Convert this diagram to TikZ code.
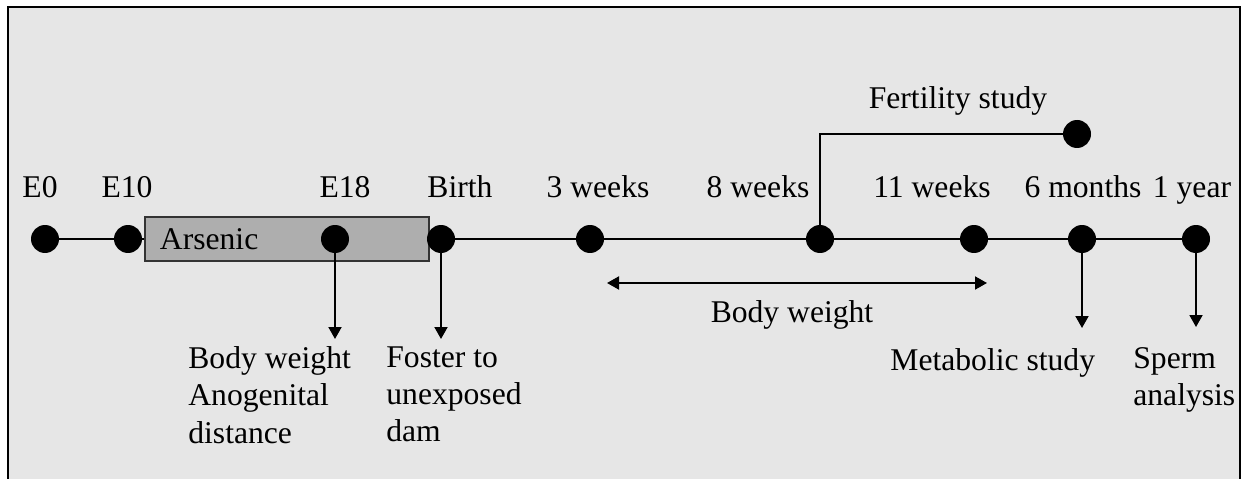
\documentclass[tikz,border=0pt]{standalone}
\usepackage{fontspec}
\setmainfont{Liberation Serif}
\usepackage{tikz}
\usetikzlibrary{arrows.meta,backgrounds}
\usepackage{xcolor}
\definecolor{panelgray}{HTML}{E6E6E6}
\definecolor{arsenicgray}{HTML}{AEAEAE}

\begin{document}
\begin{tikzpicture}[
    x=0.02cm, y=-0.02cm,
    >={Triangle[length=2.4mm, width=2.6mm]},
    tpoint/.style={circle, fill=black, inner sep=0pt, minimum size=0.56cm},
    stagelbl/.style={font=\fontsize{18}{21.3}\selectfont, inner sep=0pt, anchor=base},
    outcome/.style={font=\fontsize{18}{21.3}\selectfont, inner sep=4pt, align=left, anchor=north west},
    arrow/.style={->, line width=1.1pt},
    every node/.style={font=\fontsize{18}{21.3}\selectfont}
]
\useasboundingbox (0,0) rectangle (1251,479);

% ---- Exposure window ----
\node[draw=black!80, line width=1.1pt, fill=arsenicgray, anchor=west, text width=5.08cm, inner xsep=0.3cm,
      minimum height=0.88cm, align=left] (arsenic) at (144,239) {Arsenic};

% ---- Time points ----
\node[tpoint] (e0) at (45,239) {};
\node[tpoint] (e10) at (128,239) {};
\node[tpoint] (e18) at (335,239) {};
\node[tpoint] (birth) at (441,239) {};
\node[tpoint] (wk3) at (590,239) {};
\node[tpoint] (wk8) at (820,239) {};
\node[tpoint] (wk11) at (974,239) {};
\node[tpoint] (mo6) at (1082,239) {};
\node[tpoint] (yr1) at (1196,239) {};
\node[tpoint] (fert) at (1077,134) {};

% ---- Time labels ----
\node[stagelbl] (e0lbl) at (40,198) {E0};
\node[stagelbl] (e10lbl) at (127,198) {E10};
\node[stagelbl] (e18lbl) at (345,198) {E18};
\node[stagelbl] (birthlbl) at (460,198) {Birth};
\node[stagelbl] (wk3lbl) at (598,198) {3 weeks};
\node[stagelbl] (wk8lbl) at (758,198) {8 weeks};
\node[stagelbl] (wk11lbl) at (932,198) {11 weeks};
\node[stagelbl] (mo6lbl) at (1083,198) {6 months};
\node[stagelbl] (yr1lbl) at (1192,198) {1 year};
\node[stagelbl] (fertlbl) at (958,109) {Fertility study};

% ---- Outcomes ----
\node[outcome] (bwtxt) at (181,339) {Body weight\\Anogenital\\distance};
\node[outcome] (fostertxt) at (379,339) {Foster to\\unexposed\\dam};
\node[outcome] (mettxt) at (883,341) {Metabolic study};
\node[outcome] (spermtxt) at (1126,340) {Sperm\\analysis};
\node[stagelbl] (bwlbl) at (792,323) {Body weight};

\coordinate (bwL) at (607,283);
\coordinate (bwR) at (987,283);

% ---- Arrows ----
\draw[arrow] (e18) -- (e18 |- bwtxt.north);
\draw[arrow] (birth) -- (birth |- fostertxt.north);
\draw[arrow, shorten >=0.26cm] (mo6) -- (mo6 |- mettxt.north);
\draw[arrow, shorten >=0.26cm] (yr1) -- (yr1 |- spermtxt.north);
\draw[arrow, <->] (bwL) -- (bwR);
\draw[line width=1.1pt] (wk8) |- (fert);

% ---- Panel and time axis ----
\begin{scope}[on background layer]
    \fill[panelgray] (8,7) rectangle (1240,479);
    \draw[line width=1.5pt] (8,479) -- (8,7) -- (1240,7) -- (1240,479);
    \draw[line width=1.1pt] (e0.center) -- (yr1.center);
\end{scope}

\end{tikzpicture}
\end{document}
